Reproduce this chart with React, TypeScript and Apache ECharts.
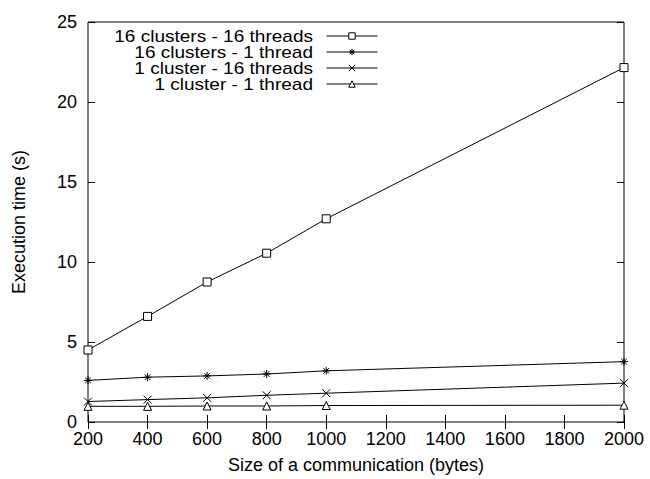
import React, { useEffect, useRef } from "react";
import * as echarts from "echarts";

const sizes = [200, 400, 600, 800, 1000, 2000];
const seriesNames = [
  "16 clusters - 16 threads",
  "16 clusters - 1 thread",
  "1 cluster - 16 threads",
  "1 cluster - 1 thread",
];
const c16t16 = [4.5, 6.6, 8.75, 10.55, 12.7, 22.15];
const c16t1 = [2.6, 2.8, 2.88, 3.0, 3.2, 3.77];
const c1t16 = [1.28, 1.4, 1.51, 1.67, 1.8, 2.43];
const c1t1 = [0.98, 0.98, 1.0, 1.0, 1.03, 1.05];
const xTitle = "Size of a communication (bytes)";
const yTitle = "Execution time (s)";

const FONT = "'Liberation Sans', Arial, Helvetica, sans-serif";

const ASTERISK = "path://M0,5L10,5M5,0L5,10M1.5,1.5L8.5,8.5M8.5,1.5L1.5,8.5";
const CROSS = "path://M0,0L10,10M10,0L0,10";

export default function App() {
  const ref = useRef<HTMLDivElement>(null);
  useEffect(() => {
    if (!ref.current) return;
    const chart = echarts.init(ref.current, null, { renderer: "svg" });
    const allData = [c16t16, c16t1, c1t16, c1t1];
    const symbols = ["rect", ASTERISK, CROSS, "triangle"];
    const symSizes = [8, 8, 8, 8];
    const series = allData.map((vals, i) => ({
      name: seriesNames[i],
      type: "line",
      data: sizes.map((x, j) => [x, vals[j]]),
      symbol: symbols[i],
      symbolSize: symSizes[i],
      showAllSymbol: true,
      lineStyle: { color: "#000", width: 1 },
      itemStyle: { color: "#fff", borderColor: "#000", borderWidth: 1 },
      emphasis: { disabled: true },
    }));
    const legends = seriesNames.map((n, i) => ({
      data: [n],
      right: 272,
      top: 32 + 16 * i,
      orient: "vertical",
      itemWidth: 51,
      itemHeight: 8,
      padding: 0,
      selectedMode: false,
      formatter: () => "",
      lineStyle: { width: 1, color: "#000" },
      itemStyle: { borderWidth: 1, borderColor: "#000", color: "#fff" },
      textStyle: { fontSize: 1 },
    }));
    const legendTexts = seriesNames.map((n, i) => ({
      type: "text",
      x: 313,
      y: 36 + 16 * i,
      scaleX: 1.12,
      silent: true,
      style: {
        text: n,
        align: "right",
        verticalAlign: "middle",
        fontSize: 17,
        fontFamily: FONT,
        fill: "#000",
      },
    }));
    const tickStyle = { inside: true, length: 7, lineStyle: { color: "#000", width: 1 } };
    const labelStyle = { fontSize: 18, fontFamily: FONT, color: "#000" };
    chart.setOption({
      animation: false,
      grid: {
        left: 88,
        right: 26,
        top: 22,
        bottom: 55,
        show: true,
        borderColor: "#000",
        borderWidth: 1,
        backgroundColor: "transparent",
      },
      legend: legends,
      graphic: legendTexts,
      xAxis: [
        {
          type: "value",
          min: 200,
          max: 2000,
          interval: 200,
          position: "bottom",
          axisLine: { show: false },
          axisTick: tickStyle,
          splitLine: { show: false },
          axisLabel: { ...labelStyle, margin: 8, formatter: (v: number) => String(v) },
          name: xTitle,
          nameLocation: "middle",
          nameGap: 34,
          nameTextStyle: labelStyle,
        },
        {
          type: "value",
          min: 200,
          max: 2000,
          interval: 200,
          position: "top",
          axisLine: { show: false },
          axisTick: tickStyle,
          splitLine: { show: false },
          axisLabel: { show: false },
        },
      ],
      yAxis: [
        {
          type: "value",
          min: 0,
          max: 25,
          interval: 5,
          position: "left",
          axisLine: { show: false },
          axisTick: tickStyle,
          splitLine: { show: false },
          axisLabel: { ...labelStyle, margin: 11 },
          name: yTitle,
          nameLocation: "middle",
          nameGap: 60,
          nameRotate: 90,
          nameTextStyle: labelStyle,
        },
        {
          type: "value",
          min: 0,
          max: 25,
          interval: 5,
          position: "right",
          axisLine: { show: false },
          axisTick: tickStyle,
          splitLine: { show: false },
          axisLabel: { show: false },
        },
      ],
      series,
    });
    return () => chart.dispose();
  }, []);
  return (
    <div
      ref={ref}
      style={{ position: "fixed", left: 0, top: 0, width: 650, height: 479, background: "#fff" }}
    />
  );
}
